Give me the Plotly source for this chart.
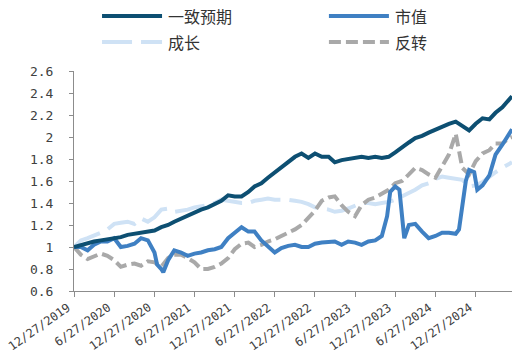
import plotly.graph_objects as go

dates = ["2019-12-27","2020-01-27","2020-02-27","2020-03-27","2020-04-27","2020-05-27",
         "2020-06-27","2020-07-27","2020-08-27","2020-09-27","2020-10-27","2020-11-27",
         "2020-12-27","2021-01-27","2021-02-27","2021-03-27","2021-04-27","2021-05-27",
         "2021-06-27","2021-07-27","2021-08-27","2021-09-27","2021-10-27","2021-11-27",
         "2021-12-27","2022-01-27","2022-02-27","2022-03-27","2022-04-27","2022-05-27",
         "2022-06-27","2022-07-27","2022-08-27","2022-09-27","2022-10-27","2022-11-27",
         "2022-12-27","2023-01-27","2023-02-27","2023-03-27","2023-04-27","2023-05-27",
         "2023-06-27","2023-07-27","2023-08-27","2023-09-27","2023-10-27","2023-11-27",
         "2023-12-27","2024-01-27","2024-02-27","2024-03-27","2024-04-27","2024-05-27",
         "2024-06-27","2024-07-27","2024-08-27","2024-09-27","2024-10-27","2024-11-27",
         "2024-12-27","2025-01-27","2025-02-27","2025-03-27","2025-04-27","2025-05-27",
         "2025-06-10"]

consensus = [1.00,1.02,1.04,1.05,1.06,1.07,1.08,1.09,1.11,1.12,1.13,1.14,1.15,1.18,1.20,1.23,
             1.26,1.29,1.31,1.34,1.36,1.39,1.42,1.47,1.46,1.46,1.50,1.55,1.58,1.63,1.68,1.73,
             1.78,1.82,1.85,1.81,1.85,1.82,1.82,1.77,1.79,1.80,1.81,1.82,1.81,1.82,1.81,1.82,
             1.86,1.91,1.95,1.99,2.01,2.04,2.07,2.10,2.12,2.14,2.10,2.06,2.12,2.17,2.16,2.22,
             2.27,2.33,2.37]

growth = [1.00,1.06,1.08,1.10,1.13,1.16,1.21,1.22,1.23,1.21,1.26,1.23,1.27,1.34,1.35,1.32,
          1.33,1.34,1.36,1.37,1.38,1.40,1.43,1.42,1.41,1.40,1.40,1.42,1.43,1.44,1.43,1.43,
          1.43,1.42,1.41,1.39,1.36,1.35,1.34,1.32,1.33,1.35,1.38,1.40,1.40,1.39,1.40,1.41,
          1.43,1.46,1.50,1.52,1.56,1.58,1.62,1.64,1.63,1.62,1.61,1.55,1.56,1.59,1.64,1.68,
          1.72,1.75,1.77]

reversal = [1.00,0.93,0.89,0.91,0.94,0.92,0.88,0.82,0.84,0.85,0.83,0.87,0.86,0.82,0.90,0.93,
            0.93,0.90,0.86,0.80,0.80,0.82,0.85,0.90,0.98,1.03,1.04,1.00,1.02,1.05,1.07,1.10,
            1.13,1.16,1.20,1.26,1.33,1.42,1.45,1.46,1.38,1.32,1.28,1.38,1.43,1.45,1.48,1.52,
            1.58,1.60,1.66,1.72,1.70,1.66,1.63,1.74,1.84,2.03,1.72,1.66,1.78,1.85,1.88,1.94,
            1.94,1.99,2.00]

mv_dates = ["2019-12-27","2020-01-27","2020-02-27","2020-03-27","2020-04-27","2020-05-27",
            "2020-06-27","2020-07-27","2020-08-27","2020-09-27","2020-10-27","2020-11-27",
            "2020-12-27","2021-01-08","2021-01-27","2021-02-05","2021-02-27","2021-03-27",
            "2021-04-27","2021-05-27","2021-06-27","2021-07-27","2021-08-27","2021-09-27",
            "2021-10-27","2021-11-27","2021-12-27","2022-01-27","2022-02-27","2022-03-27",
            "2022-04-27","2022-05-27","2022-06-27","2022-07-27","2022-08-27","2022-09-27",
            "2022-10-27","2022-11-27","2022-12-27","2023-01-27","2023-02-27","2023-03-27",
            "2023-04-27","2023-05-27","2023-06-27","2023-07-27","2023-08-27","2023-09-27",
            "2023-10-27","2023-11-20","2023-12-04","2023-12-27","2024-01-15","2024-01-27",
            "2024-02-06","2024-02-27","2024-03-27","2024-04-27","2024-05-27","2024-06-27",
            "2024-07-27","2024-08-27","2024-09-27","2024-10-12","2024-10-27","2024-11-12",
            "2024-11-27","2024-12-20","2025-01-03","2025-01-27","2025-02-27","2025-03-27",
            "2025-04-27","2025-05-27","2025-06-10"]
market_value = [1.00,1.00,0.97,1.02,1.05,1.05,1.08,1.00,1.01,1.03,1.08,1.06,0.95,0.84,0.80,0.77,
                0.88,0.97,0.95,0.92,0.94,0.95,0.97,0.98,1.00,1.08,1.13,1.18,1.14,1.14,1.06,1.00,
                0.95,0.99,1.01,1.02,1.00,1.00,1.03,1.04,1.05,1.05,1.02,1.05,1.04,1.02,1.05,1.06,
                1.10,1.28,1.50,1.55,1.52,1.25,1.08,1.20,1.21,1.14,1.08,1.10,1.13,1.13,1.12,1.16,
                1.35,1.60,1.70,1.68,1.52,1.56,1.65,1.84,1.93,2.03,2.07]

tick_dates = ["2019-12-27","2020-06-27","2020-12-27","2021-06-27","2021-12-27","2022-06-27",
              "2022-12-27","2023-06-27","2023-12-27","2024-06-27","2024-12-27"]
tick_text = ["12/27/2019","6/27/2020","12/27/2020","6/27/2021","12/27/2021","6/27/2022",
             "12/27/2022","6/27/2023","12/27/2023","6/27/2024","12/27/2024"]
y_vals = [0.6,0.8,1.0,1.2,1.4,1.6,1.8,2.0,2.2,2.4,2.6]
y_text = ["0.6","0.8","1","1.2","1.4","1.6","1.8","2","2.2","2.4","2.6"]

names = ["一致预期", "市值", "成长", "反转"]
colors = ["#0d4f72", "#3f80c3", "#cfe2f5", "#a9a9a9"]
dashes = ["solid", "solid", "30px,9px", "12px,5px"]

fig = go.Figure()
series = [(dates, consensus), (mv_dates, market_value), (dates, growth), (dates, reversal)]
order = [2, 3, 1, 0]
for i in order:
    xs, ys = series[i]
    fig.add_trace(go.Scatter(x=xs, y=ys, mode="lines", name=names[i], showlegend=False,
                             hoverinfo="skip",
                             line=dict(color=colors[i], width=4, dash=dashes[i])))

# manual legend
leg_pos = [(0.064, 1.25), (0.582, 1.25), (0.064, 1.132), (0.582, 1.132)]
for i, (lx, ly) in enumerate(leg_pos):
    fig.add_shape(type="line", xref="paper", yref="paper", x0=lx, x1=lx + 0.137, y0=ly, y1=ly,
                  line=dict(color=colors[i], width=4, dash=dashes[i]))
    fig.add_annotation(xref="paper", yref="paper", x=lx + 0.146, y=ly, text=names[i],
                       showarrow=False, xanchor="left", yanchor="middle",
                       font=dict(family="Noto Sans CJK SC", size=16, color="#333333"))

# rotated x tick labels, right end anchored at each tick
for d, t in zip(tick_dates, tick_text):
    fig.add_annotation(xref="x", yref="paper", x=d, y=-0.036, text=t, textangle=-35,
                       showarrow=False, xanchor="right", yanchor="top", borderpad=0,
                       font=dict(family="DejaVu Sans Mono", size=12, color="#404040"))

fig.update_layout(
    width=525, height=357,
    margin=dict(l=74, r=13, t=71, b=66),
    paper_bgcolor="white", plot_bgcolor="white",
    showlegend=False,
)
fig.update_xaxes(type="date", range=["2019-12-27", "2025-06-10"],
                 tickvals=tick_dates, ticktext=[""] * len(tick_dates),
                 showline=True, linecolor="#8c8c8c", linewidth=1,
                 ticks="outside", ticklen=5, tickcolor="#8c8c8c",
                 showgrid=False, zeroline=False, automargin=False)
fig.update_yaxes(range=[0.6, 2.6], tickvals=y_vals, ticktext=y_text,
                 showline=True, linecolor="#8c8c8c", linewidth=1,
                 ticks="outside", ticklen=4, tickcolor="#8c8c8c", ticklabelstandoff=13,
                 showgrid=False, zeroline=False, automargin=False,
                 tickfont=dict(family="DejaVu Sans Mono", size=13, color="#404040"))

fig.write_html("out.html", config={"displayModeBar": False},
               post_script="document.body.style.margin='0px';document.body.style.overflow='hidden';")
